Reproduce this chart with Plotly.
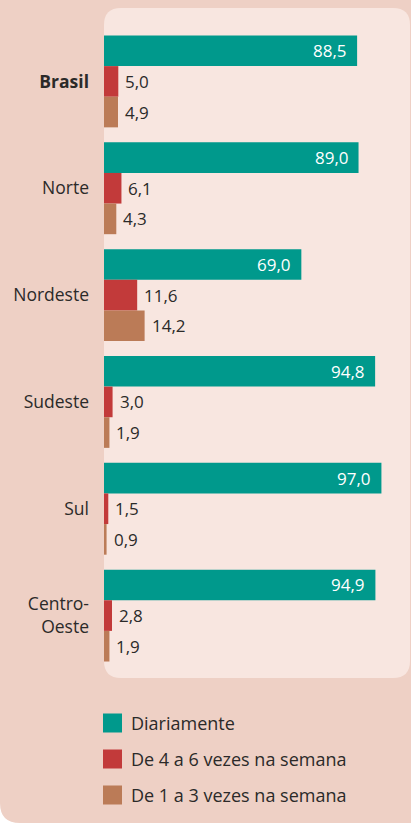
import plotly.graph_objects as go

# ---- data ----
regions = ["Brasil", "Norte", "Nordeste", "Sudeste", "Sul", "Centro-Oeste"]
region_labels = ["<b>Brasil</b>", "Norte", "Nordeste", "Sudeste", "Sul", "Centro-<br>Oeste"]
series_names = ["Diariamente", "De 4 a 6 vezes na semana", "De 1 a 3 vezes na semana"]
diariamente = [88.5, 89.0, 69.0, 94.8, 97.0, 94.9]
de4a6 = [5.0, 6.1, 11.6, 3.0, 1.5, 2.8]
de1a3 = [4.9, 4.3, 14.2, 1.9, 0.9, 1.9]
series_values = [diariamente, de4a6, de1a3]
colors = ["#00998c", "#c23a3a", "#bb7b57"]

# ---- layout constants ----
W, H = 411, 823
ML, MR, MT, MB = 104, 0, 28, 154
PW, PH = W - ML - MR, H - MT - MB
BARGAP = 0.14
XMAX = PW / 2.86
FONT = "Open Sans"
TXT = "#2b2a29"
OUTER = "#eed0c5"
INNER = "#f8e6e0"


def px(x):
    return (x - ML) / PW


def py(y):
    return (H - MB - y) / PH


fig = go.Figure()
for name, vals, col in zip(series_names, series_values, colors):
    fig.add_trace(go.Bar(
        y=regions, x=vals, name=name, orientation="h",
        marker=dict(color=col, line=dict(width=0)),
        showlegend=False, hoverinfo="skip",
    ))

bw = (1 - BARGAP) / 3
annotations = []
for k, vals in enumerate(series_values):
    off = (k - 1) * bw
    for i, v in enumerate(vals):
        txt = f"{v:.1f}".replace(".", ",")
        if k == 0:
            annotations.append(dict(x=v, y=i + off, xref="x", yref="y", text=txt,
                                    showarrow=False, xanchor="right", yanchor="middle",
                                    xshift=-8, font=dict(family=FONT, size=17, color="white")))
        else:
            annotations.append(dict(x=v, y=i + off, xref="x", yref="y", text=txt,
                                    showarrow=False, xanchor="left", yanchor="middle",
                                    xshift=5, font=dict(family=FONT, size=17, color=TXT)))

# custom legend
shapes = []
leg_y0 = 723
for j, (name, col) in enumerate(zip(series_names, colors)):
    cy = leg_y0 + 36 * j
    shapes.append(dict(type="rect", xref="paper", yref="paper",
                       x0=px(103), x1=px(122), y0=py(cy + 9.5), y1=py(cy - 9.5),
                       fillcolor=col, line=dict(width=0), layer="above"))
    annotations.append(dict(x=px(129), y=py(cy), xref="paper", yref="paper", text=name,
                            showarrow=False, xanchor="left", yanchor="middle",
                            font=dict(family=FONT, size=18, color=TXT)))

# outer white corner (bottom-left rounded)
r0 = 20
shapes.append(dict(type="path", xref="paper", yref="paper", layer="below",
                   path=f"M{px(0)},{py(H - r0)} Q{px(0)},{py(H)} {px(r0)},{py(H)} L{px(-2)},{py(H + 2)} L{px(-2)},{py(H - r0)} Z",
                   fillcolor="white", line=dict(width=0)))

# inner panel
x0, x1, y0, y1, r = 104, 410, 8, 678, 17
path = (f"M{px(x0 + r)},{py(y0)} L{px(x1 - r)},{py(y0)} Q{px(x1)},{py(y0)} {px(x1)},{py(y0 + r)} "
        f"L{px(x1)},{py(y1 - r)} Q{px(x1)},{py(y1)} {px(x1 - r)},{py(y1)} "
        f"L{px(x0 + r)},{py(y1)} Q{px(x0)},{py(y1)} {px(x0)},{py(y1 - r)} "
        f"L{px(x0)},{py(y0 + r)} Q{px(x0)},{py(y0)} {px(x0 + r)},{py(y0)} Z")
shapes.append(dict(type="path", xref="paper", yref="paper", layer="below",
                   path=path, fillcolor=INNER, line=dict(width=0)))

fig.update_layout(
    width=W, height=H,
    margin=dict(l=ML, r=MR, t=MT, b=MB, pad=0),
    paper_bgcolor=OUTER, plot_bgcolor="rgba(0,0,0,0)",
    barmode="group", bargap=BARGAP, bargroupgap=0,
    showlegend=False,
    xaxis=dict(range=[0, XMAX], visible=False, fixedrange=True),
    yaxis=dict(autorange="reversed", tickmode="array", tickvals=regions, ticktext=region_labels,
               showgrid=False, zeroline=False, showline=False, ticks="",
               ticklabelstandoff=14,
               tickfont=dict(family=FONT, size=17.5, color=TXT), fixedrange=True),
    font=dict(family=FONT, color=TXT),
    shapes=shapes, annotations=annotations,
)

fig.write_html("out.html", config={"displayModeBar": False},
               post_script="document.body.style.margin='0';document.body.style.overflow='hidden';")
